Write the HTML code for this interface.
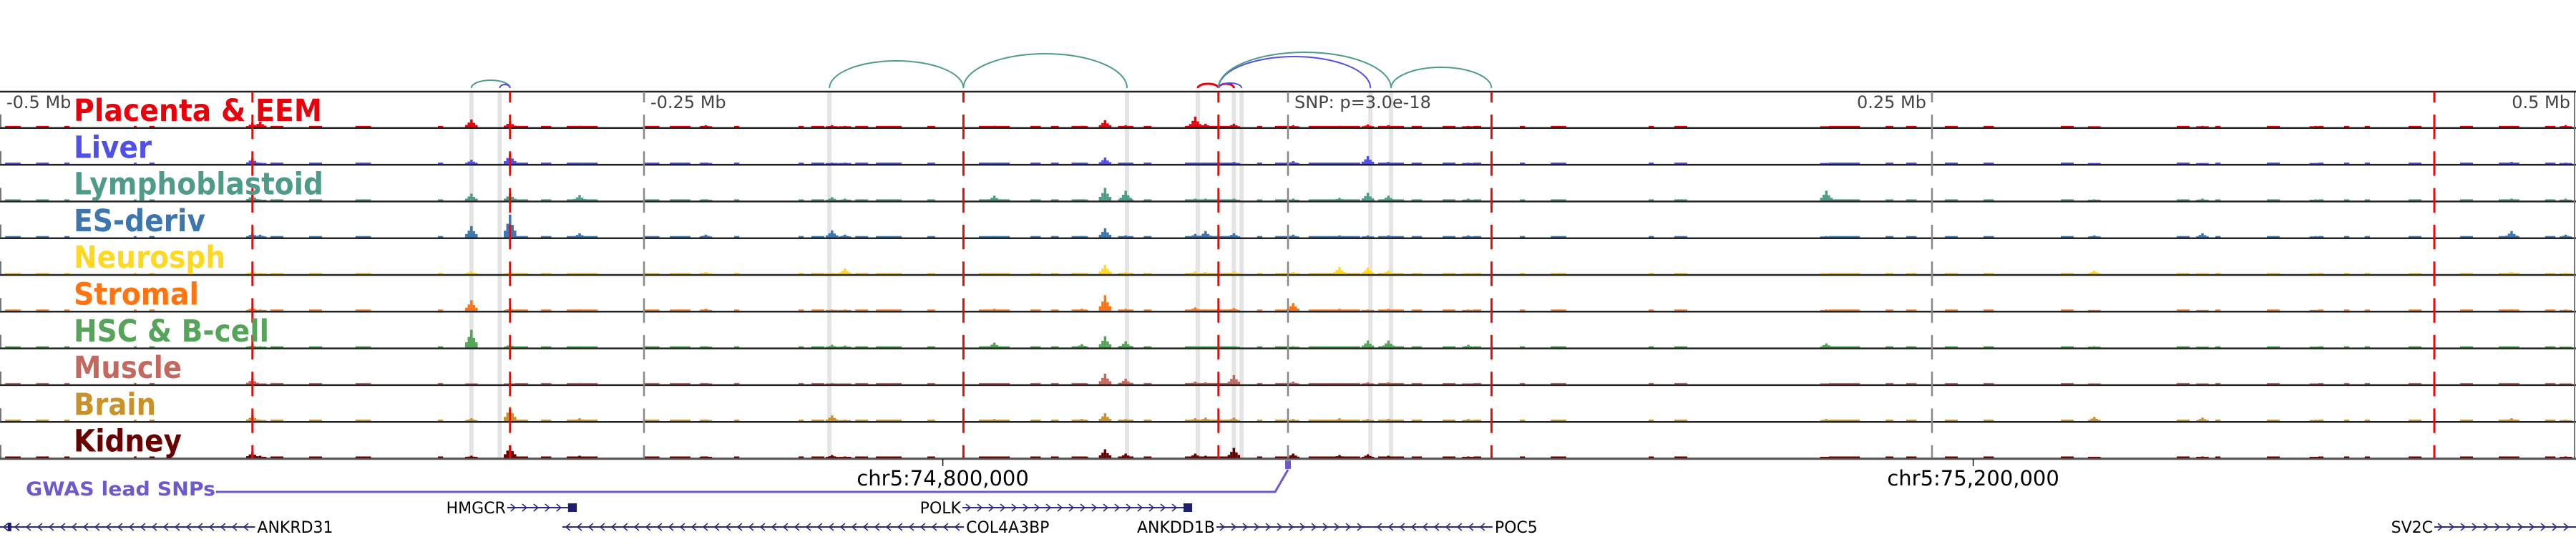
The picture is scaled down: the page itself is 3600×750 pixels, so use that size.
<!DOCTYPE html>
<html><head><meta charset="utf-8"><style>
html,body{margin:0;padding:0;background:#fff;}
svg{display:block;font-family:"DejaVu Sans","Liberation Sans",sans-serif;}
</style></head><body>
<svg id="chart" xmlns="http://www.w3.org/2000/svg" width="3600" height="750" viewBox="0 0 3600 750">
<g id="bands"></g>
<g id="arcs"></g>
<g id="tracks"></g>
<g id="vlines"></g>
<g id="labels"></g>
<g id="axis"></g>
<g id="genes"></g>
</svg>
<script>
// ---- data ----
const trackNames = ["Placenta & EEM","Liver","Lymphoblastoid","ES-deriv","Neurosph","Stromal","HSC & B-cell","Muscle","Brain","Kidney"];
const trackColors = ["#e8000b","#5050e6","#4e9b8a","#3d76ae","#ffd81f","#ff7410","#55a459","#c3675f","#c99228","#680000"];
const labelWidths = [347,109,349,184,212,175,273,151,115,151];
const peakKb = [-402,-399,-317,-302,-275,-226,-177,-172,-114,-80,-71,-63,-36,-32,-21,2,20,31,39,70,209,313,355,399,475,496];
const hPlacenta = [6,8,11,8,2,3,3,2,2,2,10,3,15,5,5,3,2,4,3,2,1,1,2,2,2,3];
const hLiver    = [8,2,6,14,2,2,2,2,2,2,9,2,2,2,3,4,2,11,3,2,1,1,1,1,3,2];
const hLympho   = [8,2,10,10,8,2,5,3,7,2,18,14,3,3,3,3,4,11,7,3,14,2,3,2,3,3];
const hES       = [6,4,16,32,6,4,10,4,2,2,13,3,5,9,6,4,3,3,3,3,2,3,6,2,9,4];
const hNeuro    = [4,2,4,3,2,3,2,8,2,2,13,3,4,3,4,3,10,9,5,2,1,5,1,1,3,2];
const hStromal  = [5,2,15,4,2,3,2,2,3,3,22,3,5,2,4,11,3,2,3,2,2,1,1,1,2,2];
const hHSC      = [4,2,25,5,2,2,4,3,7,5,16,9,2,2,2,2,2,10,10,4,6,2,1,1,1,1];
const hMuscle   = [8,1,1,2,2,1,2,1,1,2,15,8,4,3,13,4,2,3,3,1,1,1,1,1,1,1];
const hBrain    = [8,2,4,20,4,2,8,2,3,3,11,3,4,5,5,3,4,3,3,3,3,6,5,2,4,2];
const hKidney   = [8,3,3,17,3,2,4,2,2,2,12,6,6,3,14,6,4,5,3,2,1,1,2,1,2,2];
const noiseStart = [-498,-486,-475,-448,-442,-395,-380,-362,-330,-300,-290,-280,-250,-240,-228,-215,-190,-185,-168,-160,-140,-120,-100,-92,-84,-66,-56,-40,-12,-5,8,35,48,60,72,90,102,140,150,210,232,240,255,270,300,345,360,380,400,410,418,435,455,470,488];
const noiseEnd   = [-492,-481,-473,-447,-440,-390,-375,-356,-328,-295,-286,-268,-244,-232,-225,-213,-188,-180,-163,-150,-137,-108,-96,-89,-78,-60,-53,-20,-10,0,28,45,52,65,75,92,108,142,155,222,235,244,260,274,305,350,362,385,402,412,420,440,460,478,492];
const redLinesKb = [-402,-302,-126,-27,79,445];
const bandKb = [-317,-306,-178,-62.5,-35,-21,-18,32,40];
const tickKb = [-500,-250,0,250,500];
const tickLabels = ["-0.5 Mb","-0.25 Mb","SNP: p=3.0e-18","0.25 Mb","0.5 Mb"];
const arcStart = [-317,-306,-178,-126,-35,-27,-27,-27,-27,40];
const arcEnd   = [-302,-302,-126,-62.5,-27,-21,-18,32,40,79];
const arcHeight= [11,5,38,48,6,6,7,44,50,29];
const arcColor = ["#4e9b8a","#5050e6","#4e9b8a","#4e9b8a","#e8000b","#e8000b","#5050e6","#5050e6","#4e9b8a","#4e9b8a"];
const chrTickKb = [-134,266];
const chrTickLabels = ["chr5:74,800,000","chr5:75,200,000"];
const geneNames = ["HMGCR","ANKRD31","COL4A3BP","POLK","ANKDD1B","POC5","SV2C"];
const geneStart = [-303.1,-500,-281.7,-126.4,-27.8,33.3,445];
const geneEnd   = [-276.1,-401,-125.8,-37.2,33.3,79.4,500];
const geneStrand= [1,-1,-1,1,1,-1,1];
const geneRow   = [0,1,1,0,1,1,1];

const heights = [hPlacenta,hLiver,hLympho,hES,hNeuro,hStromal,hHSC,hMuscle,hBrain,hKidney];
const NS="http://www.w3.org/2000/svg";
const X = kb => 1800 + kb*3.6;
const TOP=128, TH=51.3;
function mk(tag, attrs, parent){const e=document.createElementNS(NS,tag);for(const k in attrs)e.setAttribute(k,attrs[k]);parent.appendChild(e);return e;}

// bands
const gB=document.getElementById('bands');
bandKb.forEach(k=>{
  const r=mk('rect',{x:X(k)-3,y:TOP,width:6,height:TH*10,fill:'#e4e4e4'},gB);
  
  
});

// arcs
const gA=document.getElementById('arcs');
arcStart.forEach((s,i)=>{
  const x1=X(s),x2=X(arcEnd[i]),rx=(x2-x1)/2,ry=arcHeight[i];
  const p=mk('path',{d:`M${x1} 123 A${rx} ${ry} 0 0 1 ${x2} 123`,fill:'none',stroke:arcColor[i],'stroke-width':arcColor[i]=='#e8000b'?3:2},gA);
  
  
});

// tracks
const gT=document.getElementById('tracks');
const BW=3.5;
trackNames.forEach((nm,t)=>{
  const g=mk('g',{},gT);
  
  
  const base=TOP+TH*(t+1)-1.5;
  const col=trackColors[t];
  noiseStart.forEach((s,i)=>{
    const r=mk('rect',{x:X(s),y:base-2,width:X(noiseEnd[i])-X(s),height:2,fill:col},g);
    
    
  });
  peakKb.forEach((k,i)=>{
    const h=heights[t][i];
    const cx=X(k);
    [[0,1],[-1,.6],[1,.55],[-2,.3],[2,.3]].forEach(([o,f])=>{
      const hh=Math.max(1.5,h*f);
      const r=mk('rect',{x:cx+o*BW-BW/2,y:base-hh,width:BW,height:hh,fill:col},g);
      
      
    });
  });
  const b=mk('line',{x1:0,x2:3600,y1:base+1,y2:base+1,stroke:'#222','stroke-width':2.5},g);
  
  
  const lb=mk('line',{x1:1,x2:1,y1:base-18,y2:base,stroke:'#777','stroke-width':2},g);
  
  
  const rb=mk('line',{x1:3598,x2:3598,y1:base-51,y2:base,stroke:'#777','stroke-width':2},g);
  
  
});
const topLine=mk('line',{x1:0,x2:3600,y1:TOP,y2:TOP,stroke:'#222','stroke-width':2.5},gT);



// vertical lines (solid per track with a gap near each track top)
const gV=document.getElementById('vlines');
tickKb.forEach(k=>{
  if(k===-500||k===500)return;
  const l=mk('line',{x1:X(k),x2:X(k),y1:TOP,y2:TOP+TH*10,stroke:'#888','stroke-width':2.5,'stroke-dasharray':'34.3 17','stroke-dashoffset':'19.3'},gV);
  
  
});
redLinesKb.forEach(k=>{
  const l=mk('line',{x1:X(k),x2:X(k),y1:TOP,y2:TOP+TH*10,stroke:'#ff0000','stroke-width':3,'stroke-dasharray':'34.3 17','stroke-dashoffset':'19.3'},gV);
  
  
});

// tick labels
const gL=document.getElementById('labels');
tickKb.forEach((k,i)=>{
  const x=X(k), anchorEnd = k>0;
  const t=mk('text',{x:anchorEnd?x-8:x+9,y:151,'font-size':24,fill:'#444','text-anchor':anchorEnd?'end':'start'},gL);
  t.textContent=tickLabels[i];
  
  
});
trackNames.forEach((nm,t)=>{
  const tx=mk('text',{x:103,y:TOP+TH*t+41,'font-size':43,'font-weight':'bold',fill:trackColors[t],textLength:labelWidths[t],lengthAdjust:'spacingAndGlyphs'},gL);
  tx.textContent=nm;
  
  
});

// axis
const gX=document.getElementById('axis');
const ax=mk('line',{x1:0,x2:3600,y1:641,y2:641,stroke:'#555','stroke-width':2.5},gX);


chrTickKb.forEach((k,i)=>{
  const tk=mk('line',{x1:X(k),x2:X(k),y1:641,y2:651,stroke:'#111','stroke-width':1.5},gX);
  
  
  const tl=mk('text',{x:X(k),y:678,'font-size':29,fill:'#000','text-anchor':'middle'},gX);
  tl.textContent=chrTickLabels[i];
  
  
});
const gw=mk('text',{x:36,y:692,'font-size':27,'font-weight':'bold',fill:'#6a5acd',textLength:265,lengthAdjust:'spacingAndGlyphs'},gX);
gw.textContent='GWAS lead SNPs';


const gp=mk('path',{d:`M302 687 L${X(-5)} 687 L${X(0)} 656`,fill:'none',stroke:'#6a5acd','stroke-width':3},gX);


const gr=mk('rect',{x:X(0)-4,y:643,width:8,height:12,fill:'#6a5acd'},gX);



// genes
const gG=document.getElementById('genes');
geneNames.forEach((nm,i)=>{
  const g=mk('g',{},gG);
  
  
  const y = geneRow[i]===0?709:736;
  const x1=X(geneStart[i]), x2=X(geneEnd[i]);
  mk('line',{x1:x1,x2:x2,y1:y,y2:y,stroke:'#2b2b85','stroke-width':2},g);
  let d='';
  for(let x=x1+8;x<x2-4;x+=16){
    if(geneStrand[i]>0) d+=`M${x-3} ${y-5} L${x+3} ${y} L${x-3} ${y+5} `;
    else d+=`M${x+3} ${y-5} L${x-3} ${y} L${x+3} ${y+5} `;
  }
  mk('path',{d:d,fill:'none',stroke:'#2b2b85','stroke-width':1.6},g);
  if(nm==='HMGCR'||nm==='POLK') mk('rect',{x:x2-12,y:y-6,width:12,height:12,fill:'#1e1e6e'},g);
  if(nm==='ANKRD31'){mk('rect',{x:X(-497),y:y-6,width:5,height:12,fill:'#1e1e6e'},g);}
  const left = geneStrand[i]>0;
  const t=mk('text',{x:left?x1-2:x2+3,y:y+8,'font-size':22,fill:'#000','text-anchor':left?'end':'start'},g);
  t.textContent=nm;
  
  
});
</script>
</body></html>
